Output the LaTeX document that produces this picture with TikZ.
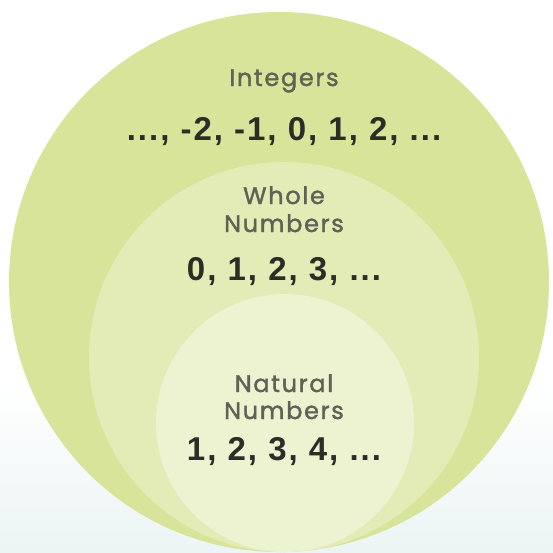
\documentclass[tikz,border=0pt]{standalone}
\usepackage{fontspec}
\setmainfont{Poppins}
\newfontfamily\lblfont{Poppins}[FakeBold=1.6,LetterSpace=7]
\newfontfamily\numfont{Liberation Sans}[LetterSpace=6]
\definecolor{bgtop}{RGB}{255,255,255}
\definecolor{bgbot}{RGB}{236,245,244}
\definecolor{outerc}{RGB}{217,228,155}
\definecolor{midc}{RGB}{227,235,183}
\definecolor{innerc}{RGB}{237,242,208}
\definecolor{labelc}{RGB}{95,98,84}
\definecolor{numc}{RGB}{45,45,40}
\begin{document}
\begin{tikzpicture}[x=1pt,y=-1pt,
  setlabel/.style={text=labelc,font=\lblfont\fontsize{24}{28}\selectfont,align=center,inner sep=0pt,anchor=base},
  setnums/.style={text=numc,font=\numfont\bfseries\fontsize{33}{34}\selectfont,inner sep=0pt,anchor=base}]
\useasboundingbox (0,0) rectangle (553,552);
\fill[bgtop] (0,0) rectangle (553,380);
\shade[top color=bgtop,bottom color=bgbot] (0,380) rectangle (553,552);
\fill[outerc] (279,282) circle[radius=270];
\fill[midc] (284,357) circle[radius=195];
\fill[innerc] (285,423) circle[radius=129];
\node[setlabel] (intl) at (284,86) {Integers};
\node[setnums] (intn) at (284,140) {..., -2, -1, 0, 1, 2, ...};
\node[setlabel] (whl) at (284,204) {Whole};
\node[setlabel] (whl2) at (284,232) {Numbers};
\node[setnums] (whn) at (284,280) {0, 1, 2, 3, ...};
\node[setlabel] (natl) at (284,392) {Natural};
\node[setlabel] (natl2) at (284,419) {Numbers};
\node[setnums] (natn) at (284,460) {1, 2, 3, 4, ...};
\end{tikzpicture}
\end{document}
